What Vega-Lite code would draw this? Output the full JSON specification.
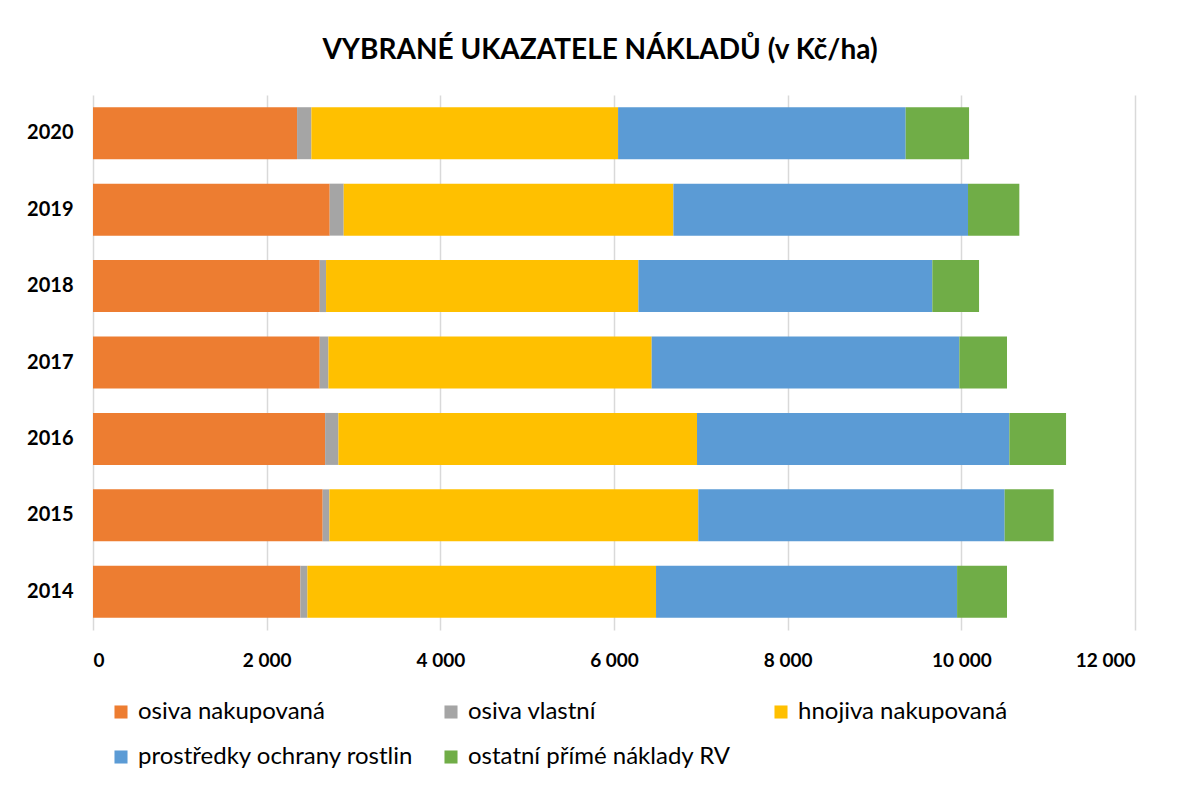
{
  "$schema": "https://vega.github.io/schema/vega-lite/v6.json",
  "autosize": {"type": "none"},
  "width": 1042,
  "height": 535,
  "padding": {"left": 93, "top": 95, "right": 45, "bottom": 157},
  "background": "white",
  "title": {
    "text": "VYBRANÉ UKAZATELE NÁKLADŮ (v Kč/ha)",
    "font": "Lato",
    "fontSize": 28,
    "fontWeight": "bold",
    "color": "#000000",
    "anchor": "middle",
    "dx": -14,
    "offset": 30
  },
  "data": {
    "values": [
      {"rok": "2020", "kategorie": "osiva nakupovaná", "poradi": 1, "hodnota": 2350},
      {"rok": "2020", "kategorie": "osiva vlastní", "poradi": 2, "hodnota": 165},
      {"rok": "2020", "kategorie": "hnojiva nakupovaná", "poradi": 3, "hodnota": 3532},
      {"rok": "2020", "kategorie": "prostředky ochrany rostlin", "poradi": 4, "hodnota": 3312},
      {"rok": "2020", "kategorie": "ostatní přímé náklady RV", "poradi": 5, "hodnota": 730},
      {"rok": "2019", "kategorie": "osiva nakupovaná", "poradi": 1, "hodnota": 2726},
      {"rok": "2019", "kategorie": "osiva vlastní", "poradi": 2, "hodnota": 161},
      {"rok": "2019", "kategorie": "hnojiva nakupovaná", "poradi": 3, "hodnota": 3797},
      {"rok": "2019", "kategorie": "prostředky ochrany rostlin", "poradi": 4, "hodnota": 3393},
      {"rok": "2019", "kategorie": "ostatní přímé náklady RV", "poradi": 5, "hodnota": 591},
      {"rok": "2018", "kategorie": "osiva nakupovaná", "poradi": 1, "hodnota": 2611},
      {"rok": "2018", "kategorie": "osiva vlastní", "poradi": 2, "hodnota": 73},
      {"rok": "2018", "kategorie": "hnojiva nakupovaná", "poradi": 3, "hodnota": 3597},
      {"rok": "2018", "kategorie": "prostředky ochrany rostlin", "poradi": 4, "hodnota": 3385},
      {"rok": "2018", "kategorie": "ostatní přímé náklady RV", "poradi": 5, "hodnota": 538},
      {"rok": "2017", "kategorie": "osiva nakupovaná", "poradi": 1, "hodnota": 2611},
      {"rok": "2017", "kategorie": "osiva vlastní", "poradi": 2, "hodnota": 100},
      {"rok": "2017", "kategorie": "hnojiva nakupovaná", "poradi": 3, "hodnota": 3723},
      {"rok": "2017", "kategorie": "prostředky ochrany rostlin", "poradi": 4, "hodnota": 3543},
      {"rok": "2017", "kategorie": "ostatní přímé náklady RV", "poradi": 5, "hodnota": 549},
      {"rok": "2016", "kategorie": "osiva nakupovaná", "poradi": 1, "hodnota": 2673},
      {"rok": "2016", "kategorie": "osiva vlastní", "poradi": 2, "hodnota": 153},
      {"rok": "2016", "kategorie": "hnojiva nakupovaná", "poradi": 3, "hodnota": 4130},
      {"rok": "2016", "kategorie": "prostředky ochrany rostlin", "poradi": 4, "hodnota": 3597},
      {"rok": "2016", "kategorie": "ostatní přímé náklady RV", "poradi": 5, "hodnota": 653},
      {"rok": "2015", "kategorie": "osiva nakupovaná", "poradi": 1, "hodnota": 2645},
      {"rok": "2015", "kategorie": "osiva vlastní", "poradi": 2, "hodnota": 77},
      {"rok": "2015", "kategorie": "hnojiva nakupovaná", "poradi": 3, "hodnota": 4249},
      {"rok": "2015", "kategorie": "prostředky ochrany rostlin", "poradi": 4, "hodnota": 3528},
      {"rok": "2015", "kategorie": "ostatní přímé náklady RV", "poradi": 5, "hodnota": 564},
      {"rok": "2014", "kategorie": "osiva nakupovaná", "poradi": 1, "hodnota": 2388},
      {"rok": "2014", "kategorie": "osiva vlastní", "poradi": 2, "hodnota": 81},
      {"rok": "2014", "kategorie": "hnojiva nakupovaná", "poradi": 3, "hodnota": 4015},
      {"rok": "2014", "kategorie": "prostředky ochrany rostlin", "poradi": 4, "hodnota": 3467},
      {"rok": "2014", "kategorie": "ostatní přímé náklady RV", "poradi": 5, "hodnota": 575}
    ]
  },
  "mark": {"type": "bar"},
  "encoding": {
    "y": {
      "field": "rok",
      "type": "nominal",
      "sort": "descending",
      "scale": {"paddingInner": 0.32, "paddingOuter": 0.16},
      "axis": {
        "title": null,
        "domain": false,
        "ticks": false,
        "labelFont": "Lato",
        "labelFontSize": 20,
        "labelFontWeight": "bold",
        "labelColor": "#000000",
        "labelPadding": 20
      }
    },
    "x": {
      "field": "hodnota",
      "type": "quantitative",
      "stack": "zero",
      "scale": {"domain": [0, 12000], "nice": false},
      "axis": {
        "title": null,
        "values": [0, 2000, 4000, 6000, 8000, 10000, 12000],
        "labelExpr": "replace(format(datum.value, ',d'), ',', ' ')",
        "domain": false,
        "ticks": false,
        "grid": true,
        "gridColor": "#D9D9D9",
        "gridWidth": 1.5,
        "labelFont": "Lato",
        "labelFontSize": 19,
        "labelFontWeight": "bold",
        "labelColor": "#000000",
        "labelPadding": 21
      }
    },
    "color": {
      "field": "kategorie",
      "type": "nominal",
      "scale": {
        "domain": ["osiva nakupovaná", "osiva vlastní", "hnojiva nakupovaná", "prostředky ochrany rostlin", "ostatní přímé náklady RV"],
        "range": ["#ED7D31", "#A5A5A5", "#FFC000", "#5B9BD5", "#70AD47"]
      },
      "legend": {
        "title": null,
        "orient": "none",
        "legendX": 16,
        "legendY": 605,
        "direction": "horizontal",
        "columns": 3,
        "gridAlign": "all",
        "columnPadding": 25,
        "rowPadding": 21,
        "symbolType": "square",
        "symbolSize": 170,
        "symbolStrokeWidth": 0,
        "labelFont": "Lato",
        "labelFontSize": 24,
        "labelColor": "#000000",
        "labelLimit": 400,
        "labelOffset": 5
      }
    },
    "order": {"field": "poradi", "type": "quantitative"}
  },
  "config": {"view": {"stroke": null}}
}
